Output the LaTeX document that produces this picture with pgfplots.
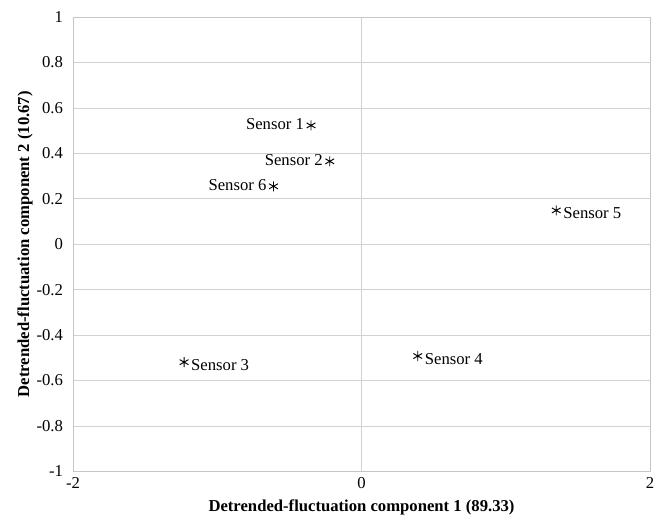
\documentclass[border=0pt]{standalone}
\usepackage{fontspec}
\setmainfont{Liberation Serif}
\usepackage{pgfplots}
\pgfplotsset{compat=1.18}
\begin{document}
\begin{tikzpicture}
\begin{axis}[
  scale only axis,
  width=433pt, height=341pt,
  xmin=-2, xmax=2, ymin=-1, ymax=1,
  xtick={-2,0,2},
  ytick={-1,-0.8,-0.6,-0.4,-0.2,0,0.2,0.4,0.6,0.8,1},
  yticklabel style={/pgf/number format/fixed, /pgf/number format/precision=1, xshift=-4pt},
  xticklabel style={yshift=-1pt},
  /pgf/number format/assume math mode=true,
  major tick length=0pt,
  grid=major,
  grid style={gray!35, line width=0.6pt},
  axis line style={gray!45, line width=0.6pt},
  tick label style={font=\fontsize{12.5}{15}\selectfont},
  xlabel={\textbf{Detrended-fluctuation component 1 (89.33)}},
  ylabel={\textbf{Detrended-fluctuation component 2 (10.67)}},
  every axis x label/.style={at={(axis description cs:0.5,0)}, anchor=center, yshift=-27pt, font=\fontsize{12.5}{15}\selectfont},
  every axis y label/.style={at={(axis description cs:0,0.5)}, anchor=center, rotate=90, yshift=36pt, font=\fontsize{12.5}{15}\selectfont},
  clip=false,
]
\addplot[only marks, mark=asterisk, mark size=3.8pt, black, line width=0.7pt,
  nodes near coords, point meta=explicit symbolic,
  every node near coord/.append style={anchor=east, font=\fontsize{12.5}{15}\selectfont, inner sep=5pt, black, yshift=1pt}]
  table[meta=label] {
x y label
-0.35 0.523 {Sensor\ 1}
-0.22 0.365 {Sensor\ 2}
-0.61 0.255 {Sensor\ 6}
};
\addplot[only marks, mark=asterisk, mark size=3.8pt, black, line width=0.7pt,
  nodes near coords, point meta=explicit symbolic,
  every node near coord/.append style={anchor=west, font=\fontsize{12.5}{15}\selectfont, inner sep=5pt, black, yshift=-2pt}]
  table[meta=label] {
x y label
1.35 0.149 {Sensor\ 5}
-1.23 -0.519 {Sensor\ 3}
0.39 -0.492 {Sensor\ 4}
};
\end{axis}
\pgfresetboundingbox
\path ([shift={(-54.8pt,-33.8pt)}]current axis.south west) rectangle ([shift={(3pt,12.8pt)}]current axis.north east);
\end{tikzpicture}
\end{document}
